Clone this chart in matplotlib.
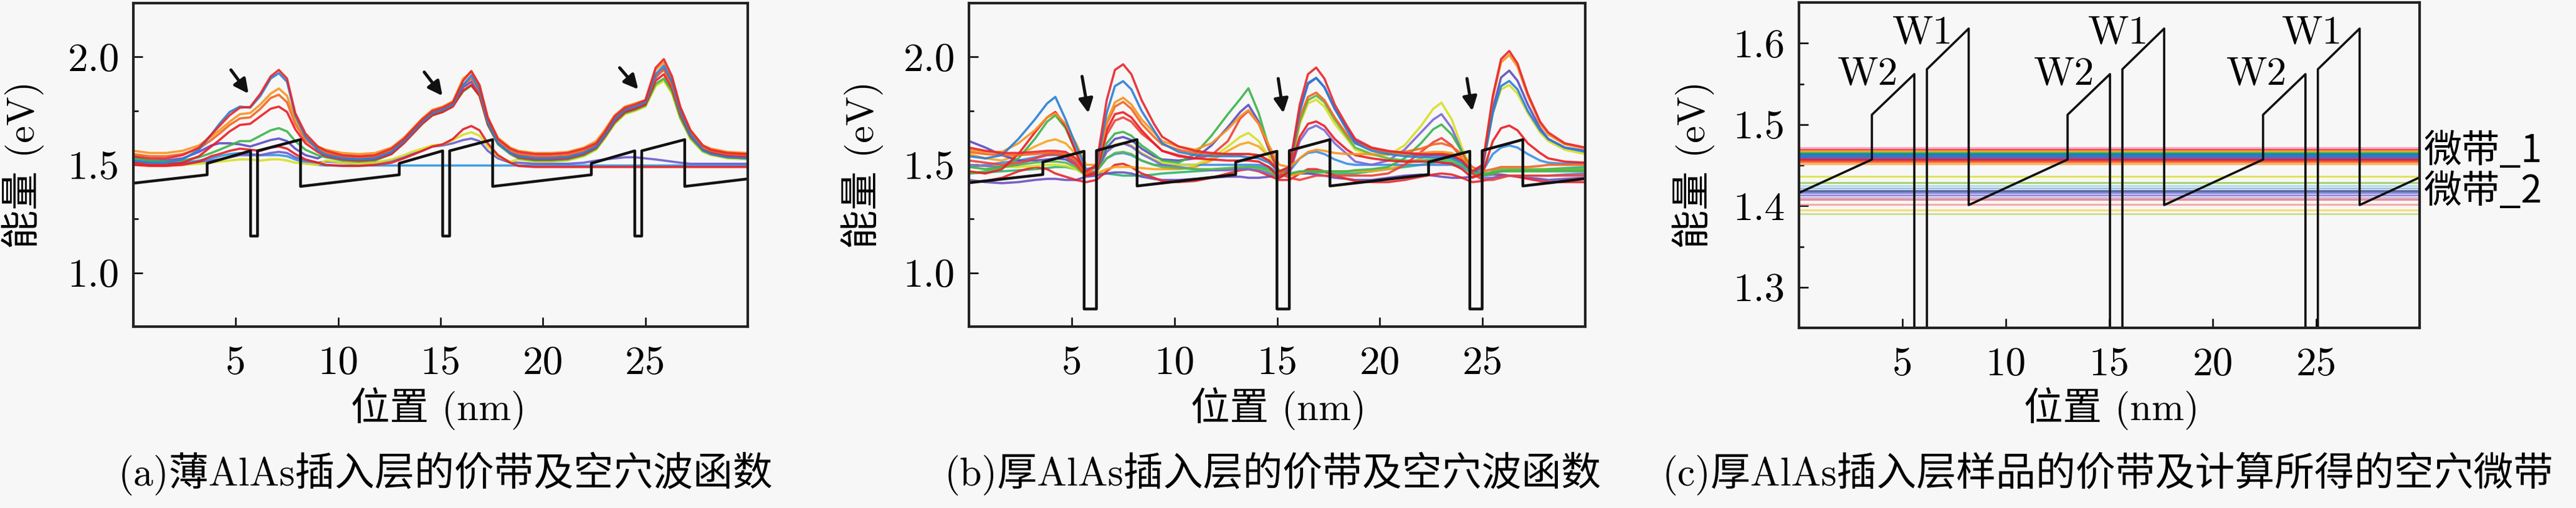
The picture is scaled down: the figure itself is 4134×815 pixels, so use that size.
import matplotlib.pyplot as plt
from matplotlib.ticker import FixedLocator

plt.rcParams['font.family'] = ['cmr10', 'Noto Sans CJK SC']
plt.rcParams['axes.unicode_minus'] = False

BG = '#f7f7f7'

# position grid (nm) shared by the wave function curves of (a) and (b)
xg = [0, 0.8, 1.6, 2.4, 3.2, 3.8, 4.2, 4.7, 5.2, 5.7, 6.2, 6.7, 7.1, 7.5, 7.9, 8.4, 9.0,
      9.4, 10.2, 11.0, 11.8, 12.6, 13.2, 13.6, 14.1, 14.6, 15.1, 15.6, 16.1, 16.5, 16.9, 17.3, 17.8, 18.4,
      18.8, 19.6, 20.4, 21.2, 22.0, 22.6, 23.0, 23.5, 24.0, 24.5, 25.0, 25.5, 25.9, 26.3, 26.7, 27.2, 27.8,
      28.2, 29.0, 30.0]

# ---- (a) thin AlAs: valence band and hole wave functions (eV) ----
a_band_x = [0, 3.6, 3.6, 5.72, 5.72, 6.06, 6.06, 8.16, 8.16, 12.98, 12.98, 15.1, 15.1, 15.44, 15.44,
            17.54, 17.54, 22.36, 22.36, 24.48, 24.48, 24.82, 24.82, 26.92, 26.92, 30]
a_band_y = [1.415, 1.454, 1.507, 1.565, 1.17, 1.17, 1.565, 1.617, 1.40, 1.454, 1.507, 1.565, 1.17, 1.17, 1.565,
            1.617, 1.40, 1.454, 1.507, 1.565, 1.17, 1.17, 1.565, 1.617, 1.40, 1.435]

a_red = [1.54, 1.53, 1.53, 1.545, 1.58, 1.64, 1.68, 1.73, 1.765, 1.768, 1.83, 1.91, 1.94, 1.90, 1.74, 1.645, 1.585,
         1.565, 1.545, 1.54, 1.545, 1.575, 1.62, 1.66, 1.71, 1.75, 1.765, 1.79, 1.89, 1.935, 1.87, 1.72, 1.62, 1.575,
         1.56, 1.55, 1.55, 1.555, 1.575, 1.60, 1.65, 1.725, 1.765, 1.78, 1.80, 1.95, 1.99, 1.91, 1.77, 1.66, 1.59,
         1.57, 1.555, 1.55]
a_blue = [1.52, 1.51, 1.51, 1.525, 1.57, 1.64, 1.69, 1.745, 1.77, 1.765, 1.82, 1.90, 1.925, 1.885, 1.73, 1.63, 1.57,
          1.545, 1.53, 1.525, 1.53, 1.56, 1.61, 1.65, 1.70, 1.74, 1.755, 1.78, 1.87, 1.915, 1.85, 1.70, 1.60, 1.555,
          1.54, 1.53, 1.53, 1.535, 1.555, 1.585, 1.635, 1.71, 1.755, 1.77, 1.79, 1.92, 1.96, 1.885, 1.75, 1.64, 1.57,
          1.55, 1.535, 1.53]
a_orange = [1.565, 1.555, 1.555, 1.565, 1.59, 1.63, 1.66, 1.70, 1.735, 1.74, 1.78, 1.83, 1.854, 1.82, 1.71, 1.63, 1.585,
            1.57, 1.555, 1.55, 1.555, 1.58, 1.625, 1.665, 1.715, 1.755, 1.77, 1.795, 1.90, 1.93, 1.865, 1.72, 1.625, 1.58,
            1.565, 1.555, 1.555, 1.56, 1.58, 1.61, 1.66, 1.73, 1.77, 1.785, 1.80, 1.94, 1.975, 1.90, 1.765, 1.66, 1.59,
            1.575, 1.56, 1.555]
a_orange2 = [1.55, 1.54, 1.54, 1.55, 1.575, 1.615, 1.645, 1.685, 1.715, 1.72, 1.76, 1.81, 1.825, 1.79, 1.69, 1.615, 1.575,
             1.555, 1.54, 1.535, 1.54, 1.565, 1.61, 1.65, 1.70, 1.74, 1.755, 1.78, 1.87, 1.90, 1.84, 1.70, 1.61, 1.565,
             1.55, 1.54, 1.54, 1.545, 1.565, 1.595, 1.645, 1.715, 1.755, 1.77, 1.79, 1.91, 1.94, 1.87, 1.745, 1.645, 1.58,
             1.565, 1.55, 1.545]
a_red2 = [1.51, 1.50, 1.50, 1.51, 1.54, 1.585, 1.615, 1.655, 1.685, 1.69, 1.725, 1.76, 1.77, 1.745, 1.665, 1.60, 1.56,
          1.54, 1.525, 1.52, 1.525, 1.55, 1.60, 1.64, 1.69, 1.73, 1.745, 1.77, 1.845, 1.87, 1.82, 1.69, 1.60, 1.555,
          1.535, 1.525, 1.525, 1.53, 1.55, 1.58, 1.63, 1.70, 1.745, 1.76, 1.78, 1.89, 1.92, 1.855, 1.735, 1.635, 1.57,
          1.555, 1.54, 1.535]
a_green = [1.53, 1.52, 1.515, 1.52, 1.535, 1.555, 1.57, 1.59, 1.61, 1.61, 1.635, 1.66, 1.67, 1.655, 1.61, 1.57, 1.545,
           1.535, 1.52, 1.515, 1.52, 1.55, 1.60, 1.64, 1.69, 1.73, 1.745, 1.775, 1.84, 1.868, 1.82, 1.685, 1.595, 1.55,
           1.53, 1.52, 1.52, 1.525, 1.545, 1.575, 1.625, 1.695, 1.74, 1.755, 1.775, 1.875, 1.90, 1.84, 1.72, 1.625, 1.565,
           1.55, 1.535, 1.53]
a_purple = [1.535, 1.52, 1.52, 1.53, 1.56, 1.59, 1.60, 1.60, 1.595, 1.585, 1.60, 1.615, 1.622, 1.61, 1.575, 1.545, 1.53,
            1.55, 1.535, 1.53, 1.535, 1.56, 1.605, 1.645, 1.695, 1.735, 1.75, 1.775, 1.86, 1.885, 1.83, 1.695, 1.60, 1.555,
            1.545, 1.535, 1.535, 1.54, 1.56, 1.59, 1.64, 1.71, 1.75, 1.765, 1.785, 1.905, 1.945, 1.875, 1.745, 1.64, 1.575,
            1.56, 1.545, 1.54]
a_red3 = [1.50, 1.495, 1.495, 1.50, 1.515, 1.54, 1.55, 1.565, 1.575, 1.57, 1.565, 1.58, 1.585, 1.575, 1.55, 1.525, 1.51,
          1.50, 1.495, 1.495, 1.50, 1.51, 1.53, 1.545, 1.565, 1.585, 1.595, 1.62, 1.665, 1.68, 1.66, 1.60, 1.545, 1.51,
          1.495, 1.49, 1.49, 1.49, 1.49, 1.49, 1.49, 1.49, 1.49, 1.49, 1.49, 1.49, 1.49, 1.49, 1.49, 1.49, 1.49,
          1.49, 1.49, 1.49]
a_yellow = [1.505, 1.50, 1.50, 1.50, 1.505, 1.51, 1.515, 1.52, 1.525, 1.525, 1.52, 1.525, 1.526, 1.52, 1.51, 1.505, 1.50,
            1.52, 1.51, 1.505, 1.51, 1.525, 1.545, 1.56, 1.575, 1.59, 1.595, 1.615, 1.64, 1.651, 1.635, 1.585, 1.54, 1.515,
            1.525, 1.515, 1.515, 1.52, 1.54, 1.57, 1.62, 1.69, 1.735, 1.75, 1.77, 1.865, 1.89, 1.83, 1.715, 1.62, 1.56,
            1.545, 1.53, 1.525]
a_purple2 = [1.52, 1.51, 1.505, 1.505, 1.51, 1.52, 1.525, 1.535, 1.545, 1.545, 1.545, 1.555, 1.56, 1.555, 1.535, 1.52, 1.51,
             1.515, 1.51, 1.505, 1.51, 1.52, 1.535, 1.55, 1.565, 1.585, 1.59, 1.60, 1.615, 1.622, 1.61, 1.565, 1.53, 1.51,
             1.51, 1.505, 1.505, 1.505, 1.51, 1.52, 1.525, 1.53, 1.535, 1.535, 1.53, 1.525, 1.52, 1.515, 1.51, 1.505, 1.505,
             1.505, 1.505, 1.505]
a_ltblue = [1.51, 1.505, 1.505, 1.51, 1.52, 1.53, 1.54, 1.55, 1.555, 1.55, 1.545, 1.545, 1.545, 1.54, 1.525, 1.51, 1.50,
            1.497, 1.497, 1.497, 1.497, 1.497, 1.497, 1.497, 1.497, 1.497, 1.497, 1.497, 1.497, 1.497, 1.497, 1.497, 1.497, 1.497,
            1.497, 1.497, 1.497, 1.497, 1.497, 1.497, 1.497, 1.497, 1.497, 1.497, 1.497, 1.497, 1.497, 1.497, 1.497, 1.497, 1.497,
            1.497, 1.497, 1.497]

# arrows in (a): (tail x, tail y, head x, head y)
a_arrows = [(4.76, 1.94, 5.62, 1.83), (14.2, 1.93, 15.09, 1.82), (23.74, 1.95, 24.65, 1.85)]

# ---- (b) thick AlAs: valence band and hole wave functions (eV) ----
b_band_x = [0, 3.59, 3.59, 5.6, 5.6, 6.2, 6.2, 8.18, 8.18, 12.98, 12.98, 14.99, 14.99, 15.59, 15.59,
            17.57, 17.57, 22.37, 22.37, 24.38, 24.38, 24.98, 24.98, 26.96, 26.96, 30]
b_band_y = [1.417, 1.455, 1.513, 1.563, 0.832, 0.832, 1.566, 1.617, 1.402, 1.455, 1.513, 1.563, 0.832, 0.832, 1.566,
            1.617, 1.402, 1.455, 1.513, 1.563, 0.832, 0.832, 1.566, 1.617, 1.402, 1.436]

b_red = [1.58, 1.565, 1.555, 1.555, 1.56, 1.565, 1.565, 1.56, 1.53, 1.47, 1.50, 1.80, 1.94, 1.966, 1.92, 1.80, 1.69,
         1.63, 1.585, 1.565, 1.555, 1.55, 1.55, 1.55, 1.545, 1.52, 1.47, 1.49, 1.78, 1.92, 1.951, 1.90, 1.78, 1.68,
         1.62, 1.58, 1.565, 1.555, 1.55, 1.55, 1.55, 1.545, 1.52, 1.47, 1.50, 1.82, 1.99, 2.028, 1.97, 1.83, 1.70,
         1.65, 1.60, 1.58]
b_blue = [1.54, 1.53, 1.545, 1.62, 1.71, 1.785, 1.815, 1.71, 1.59, 1.48, 1.49, 1.74, 1.865, 1.888, 1.85, 1.75, 1.66,
          1.60, 1.56, 1.545, 1.54, 1.54, 1.54, 1.535, 1.53, 1.51, 1.47, 1.49, 1.75, 1.88, 1.903, 1.86, 1.76, 1.66,
          1.60, 1.565, 1.55, 1.54, 1.535, 1.535, 1.535, 1.53, 1.51, 1.47, 1.49, 1.74, 1.865, 1.889, 1.85, 1.75, 1.66,
          1.62, 1.58, 1.56]
b_orange = [1.57, 1.56, 1.56, 1.60, 1.66, 1.72, 1.739, 1.69, 1.60, 1.50, 1.50, 1.70, 1.79, 1.811, 1.78, 1.71, 1.65,
            1.61, 1.585, 1.57, 1.60, 1.665, 1.725, 1.754, 1.69, 1.59, 1.50, 1.49, 1.53, 1.56, 1.57, 1.565, 1.555, 1.55,
            1.55, 1.55, 1.55, 1.55, 1.555, 1.56, 1.56, 1.555, 1.53, 1.47, 1.50, 1.81, 1.975, 2.01, 1.955, 1.82, 1.69,
            1.64, 1.595, 1.575]
b_orange2 = [1.56, 1.55, 1.545, 1.545, 1.55, 1.555, 1.555, 1.55, 1.52, 1.46, 1.49, 1.69, 1.77, 1.792, 1.76, 1.69, 1.63,
             1.595, 1.57, 1.555, 1.55, 1.55, 1.55, 1.55, 1.545, 1.52, 1.46, 1.49, 1.72, 1.815, 1.835, 1.80, 1.72, 1.64,
             1.60, 1.575, 1.56, 1.56, 1.575, 1.595, 1.60, 1.585, 1.55, 1.49, 1.47, 1.48, 1.49, 1.49, 1.49, 1.49, 1.495,
             1.50, 1.50, 1.50]
b_red2 = [1.47, 1.46, 1.48, 1.55, 1.65, 1.72, 1.745, 1.68, 1.56, 1.45, 1.46, 1.66, 1.735, 1.744, 1.72, 1.66, 1.60,
          1.565, 1.54, 1.53, 1.525, 1.52, 1.52, 1.52, 1.515, 1.49, 1.44, 1.47, 1.63, 1.69, 1.701, 1.68, 1.62, 1.57,
          1.545, 1.53, 1.52, 1.515, 1.515, 1.515, 1.51, 1.505, 1.48, 1.44, 1.46, 1.61, 1.67, 1.682, 1.66, 1.60, 1.555,
          1.53, 1.515, 1.51]
b_red3 = [1.52, 1.51, 1.50, 1.51, 1.53, 1.545, 1.55, 1.54, 1.50, 1.45, 1.47, 1.64, 1.705, 1.72, 1.70, 1.645, 1.60,
          1.565, 1.545, 1.53, 1.545, 1.61, 1.715, 1.75, 1.69, 1.58, 1.46, 1.44, 1.43, 1.44, 1.45, 1.45, 1.45, 1.45,
          1.45, 1.45, 1.46, 1.50, 1.56, 1.605, 1.624, 1.59, 1.53, 1.46, 1.43, 1.43, 1.44, 1.45, 1.45, 1.45, 1.45,
          1.45, 1.45, 1.45]
b_green = [1.49, 1.48, 1.49, 1.53, 1.62, 1.70, 1.73, 1.67, 1.56, 1.45, 1.47, 1.60, 1.645, 1.653, 1.635, 1.59, 1.55,
           1.52, 1.51, 1.55, 1.635, 1.735, 1.805, 1.855, 1.74, 1.58, 1.47, 1.46, 1.47, 1.47, 1.47, 1.47, 1.47, 1.47,
           1.475, 1.48, 1.49, 1.53, 1.60, 1.665, 1.687, 1.64, 1.56, 1.47, 1.45, 1.46, 1.47, 1.47, 1.47, 1.47, 1.47,
           1.47, 1.47, 1.47]
b_green2 = [1.46, 1.47, 1.49, 1.50, 1.51, 1.515, 1.515, 1.51, 1.49, 1.45, 1.47, 1.53, 1.555, 1.56, 1.55, 1.52, 1.50,
            1.49, 1.485, 1.48, 1.48, 1.485, 1.49, 1.49, 1.485, 1.47, 1.44, 1.47, 1.70, 1.80, 1.821, 1.79, 1.71, 1.63,
            1.58, 1.55, 1.53, 1.52, 1.52, 1.525, 1.525, 1.52, 1.50, 1.46, 1.45, 1.47, 1.48, 1.48, 1.48, 1.48, 1.48,
            1.48, 1.48, 1.48]
b_purple = [1.61, 1.58, 1.545, 1.52, 1.52, 1.525, 1.53, 1.525, 1.50, 1.45, 1.47, 1.58, 1.62, 1.629, 1.615, 1.575, 1.54,
            1.525, 1.52, 1.53, 1.59, 1.675, 1.745, 1.778, 1.70, 1.57, 1.46, 1.48, 1.75, 1.875, 1.903, 1.86, 1.76, 1.67,
            1.61, 1.575, 1.56, 1.55, 1.545, 1.545, 1.545, 1.54, 1.515, 1.46, 1.49, 1.76, 1.905, 1.937, 1.89, 1.78, 1.67,
            1.62, 1.58, 1.565]
b_purple2 = [1.50, 1.495, 1.49, 1.50, 1.53, 1.55, 1.555, 1.545, 1.51, 1.45, 1.47, 1.56, 1.59, 1.60, 1.585, 1.55, 1.52,
             1.50, 1.49, 1.48, 1.475, 1.475, 1.48, 1.48, 1.475, 1.46, 1.44, 1.46, 1.61, 1.665, 1.682, 1.66, 1.60, 1.55,
             1.515, 1.50, 1.52, 1.57, 1.65, 1.71, 1.735, 1.67, 1.56, 1.46, 1.44, 1.44, 1.445, 1.45, 1.45, 1.45, 1.45,
             1.45, 1.455, 1.46]
b_yellow = [1.50, 1.495, 1.49, 1.49, 1.495, 1.50, 1.50, 1.495, 1.48, 1.45, 1.47, 1.56, 1.595, 1.60, 1.59, 1.555, 1.525,
            1.51, 1.50, 1.50, 1.53, 1.585, 1.63, 1.648, 1.61, 1.54, 1.46, 1.47, 1.69, 1.785, 1.802, 1.77, 1.69, 1.62,
            1.57, 1.545, 1.545, 1.59, 1.68, 1.76, 1.788, 1.71, 1.58, 1.47, 1.48, 1.74, 1.85, 1.87, 1.83, 1.74, 1.65,
            1.61, 1.57, 1.55]
b_blue2 = [1.49, 1.50, 1.51, 1.52, 1.535, 1.545, 1.545, 1.54, 1.51, 1.46, 1.47, 1.53, 1.55, 1.555, 1.545, 1.52, 1.50,
           1.50, 1.50, 1.50, 1.50, 1.50, 1.50, 1.50, 1.50, 1.49, 1.46, 1.47, 1.53, 1.555, 1.561, 1.55, 1.525, 1.505,
           1.50, 1.50, 1.50, 1.50, 1.50, 1.50, 1.50, 1.50, 1.49, 1.46, 1.47, 1.55, 1.58, 1.59, 1.58, 1.55, 1.52,
           1.51, 1.505, 1.51]
b_orange3 = [1.55, 1.53, 1.52, 1.545, 1.585, 1.61, 1.618, 1.60, 1.55, 1.47, 1.46, 1.48, 1.49, 1.49, 1.49, 1.485, 1.48,
             1.48, 1.48, 1.49, 1.52, 1.565, 1.595, 1.604, 1.585, 1.54, 1.47, 1.45, 1.46, 1.47, 1.47, 1.47, 1.47, 1.47,
             1.47, 1.47, 1.48, 1.50, 1.53, 1.55, 1.555, 1.545, 1.52, 1.46, 1.45, 1.46, 1.47, 1.475, 1.475, 1.475, 1.475,
             1.475, 1.475, 1.475]
b_red4 = [1.42, 1.425, 1.44, 1.47, 1.49, 1.48, 1.46, 1.445, 1.43, 1.42, 1.43, 1.47, 1.50, 1.505, 1.49, 1.46, 1.44,
          1.425, 1.42, 1.425, 1.44, 1.46, 1.475, 1.48, 1.47, 1.45, 1.43, 1.43, 1.46, 1.48, 1.48, 1.47, 1.45, 1.435,
          1.425, 1.42, 1.42, 1.43, 1.445, 1.455, 1.46, 1.455, 1.44, 1.42, 1.425, 1.44, 1.45, 1.45, 1.445, 1.435, 1.425,
          1.42, 1.42, 1.42]
b_purple3 = [1.43, 1.42, 1.415, 1.42, 1.43, 1.435, 1.435, 1.43, 1.43, 1.445, 1.45, 1.46, 1.465, 1.465, 1.46, 1.445, 1.435,
             1.43, 1.43, 1.435, 1.44, 1.445, 1.445, 1.44, 1.44, 1.445, 1.45, 1.455, 1.46, 1.46, 1.455, 1.45, 1.44, 1.435,
             1.43, 1.43, 1.44, 1.45, 1.455, 1.45, 1.445, 1.44, 1.44, 1.445, 1.45, 1.455, 1.455, 1.45, 1.445, 1.44, 1.435,
             1.43, 1.435, 1.44]
b_teal = [1.46, 1.465, 1.47, 1.475, 1.48, 1.485, 1.49, 1.49, 1.48, 1.46, 1.46, 1.46, 1.455, 1.45, 1.45, 1.45, 1.455,
          1.46, 1.465, 1.47, 1.475, 1.48, 1.485, 1.49, 1.49, 1.48, 1.46, 1.455, 1.46, 1.46, 1.465, 1.465, 1.46, 1.46,
          1.46, 1.47, 1.48, 1.49, 1.50, 1.51, 1.515, 1.51, 1.495, 1.47, 1.46, 1.465, 1.47, 1.475, 1.475, 1.475, 1.475,
          1.48, 1.485, 1.49]

b_arrows = [(5.5, 1.91, 5.81, 1.74), (15.05, 1.90, 15.3, 1.74), (24.24, 1.90, 24.5, 1.75)]

# ---- (c) thick AlAs sample: valence band and calculated hole minibands (eV) ----
c_band_x = [0, 3.52, 3.52, 5.57, 5.57, 6.18, 6.18, 8.2, 8.2, 12.98, 12.98, 15.03, 15.03, 15.63, 15.63,
            17.65, 17.65, 22.43, 22.43, 24.48, 24.48, 25.08, 25.08, 27.1, 27.1, 30]
c_band_y = [1.416, 1.457, 1.512, 1.562, 0.83, 0.83, 1.568, 1.618, 1.401, 1.457, 1.512, 1.562, 0.83, 0.83, 1.568,
            1.618, 1.401, 1.457, 1.512, 1.562, 0.83, 0.83, 1.568, 1.618, 1.401, 1.435]

mini1_y = [1.4705, 1.4688, 1.4672, 1.4657, 1.4645, 1.4630, 1.4615, 1.4598, 1.4580, 1.4560, 1.4535, 1.4515]
mini1_c = ['#f4a3c1', '#ee3b57', '#f7941d', '#c8d632', '#39b54a', '#1c75bc', '#2a7fc0', '#3a6fb8',
           '#6a4fc0', '#ed1c24', '#f15a24', '#f7b267']
mini2_y = [1.4361, 1.4284, 1.4246, 1.4220, 1.4187, 1.4162, 1.4131, 1.4100, 1.4080, 1.4016, 1.3952, 1.3906]
mini2_c = ['#d9e021', '#8cc63f', '#a6d1ec', '#7fb8e0', '#2e3a87', '#5560c8', '#7b68d6', '#b7a7e0',
           '#f0646e', '#f4928f', '#f7d24a', '#b9d97a']

w_labels = ['W2', 'W1', 'W2', 'W1', 'W2', 'W1']
w_x = [3.34, 5.98, 12.8, 15.44, 22.13, 24.8]
w_y = [1.561, 1.612, 1.561, 1.612, 1.561, 1.612]

x_ticks = [5, 10, 15, 20, 25]
x_tick_labels = ['5', '10', '15', '20', '25']
ab_yticks = [1.0, 1.5, 2.0]
ab_ytick_labels = ['1.0', '1.5', '2.0']
c_yticks = [1.3, 1.4, 1.5, 1.6]
c_ytick_labels = ['1.3', '1.4', '1.5', '1.6']

captions = ['(a)薄AlAs插入层的价带及空穴波函数',
            '(b)厚AlAs插入层的价带及空穴波函数',
            '(c)厚AlAs插入层样品的价带及计算所得的空穴微带']

a_curves = [(a_ltblue, '#2f96e0'), (a_purple2, '#6d5bd0'), (a_yellow, '#d7df23'), (a_red3, '#e41f26'),
            (a_purple, '#5b4bc4'), (a_green, '#3cb44b'), (a_red2, '#ec1c24'), (a_orange2, '#f26522'),
            (a_orange, '#f7931e'), (a_blue, '#2b7fd4'), (a_red, '#e8262b')]
b_curves = [(b_teal, '#2bb673'), (b_purple3, '#6a4fc0'), (b_red4, '#e8262b'), (b_orange3, '#f8a51b'),
            (b_blue2, '#3a8ee6'), (b_yellow, '#d7df23'), (b_purple2, '#7b68d6'), (b_purple, '#5b4bc4'),
            (b_green2, '#57b947'), (b_green, '#3cb44b'), (b_red3, '#ef4136'), (b_red2, '#ec1c24'),
            (b_orange2, '#f26522'), (b_orange, '#f7931e'), (b_blue, '#2b7fd4'), (b_red, '#e8262b')]

fig = plt.figure(figsize=(41.34, 8.15), dpi=100, facecolor=BG)
ax_a = fig.add_axes([0.0518, 0.357, 0.2385, 0.637])
ax_b = fig.add_axes([0.3762, 0.357, 0.2392, 0.637])
ax_c = fig.add_axes([0.6984, 0.3546, 0.2409, 0.6404])


def style(ax, ylim, yt, ytl, yminor):
    ax.set_facecolor(BG)
    ax.set_xlim(0, 30)
    ax.set_ylim(*ylim)
    ax.set_xticks(x_ticks, labels=x_tick_labels)
    ax.set_yticks(yt, labels=ytl)
    ax.yaxis.set_minor_locator(FixedLocator(yminor))
    ax.tick_params(which='both', direction='in', top=False, right=False, labelsize=47, width=1.8)
    ax.tick_params(which='major', length=11)
    ax.tick_params(which='minor', length=6)
    ax.tick_params(axis='x', pad=22)
    ax.tick_params(axis='y', pad=16)
    for s in ax.spines.values():
        s.set_linewidth(3.0)
        s.set_color('#222222')


for ax, curves, bx, by, arrows in [(ax_a, a_curves, a_band_x, a_band_y, a_arrows),
                                     (ax_b, b_curves, b_band_x, b_band_y, b_arrows)]:
    for vals, col in curves:
        ax.plot(xg, vals, color=col, lw=2.6, alpha=0.9)
    ax.plot(bx, by, color='#111111', lw=3.2)
    for tx, ty, hx, hy in arrows:
        ax.annotate('', xy=(hx, hy), xytext=(tx, ty),
                    arrowprops=dict(arrowstyle='-|>', color='#111111', lw=3.6, mutation_scale=34,
                                    shrinkA=0, shrinkB=0))
    style(ax, (0.75, 2.25), ab_yticks, ab_ytick_labels, [1.25, 1.75])

for yy, col in zip(mini1_y, mini1_c):
    ax_c.axhline(yy, color=col, lw=3.0, alpha=0.9)
for yy, col in zip(mini2_y, mini2_c):
    ax_c.axhline(yy, color=col, lw=2.2, alpha=0.75)
ax_c.plot(c_band_x, c_band_y, color='#111111', lw=2.6)
for lab, xx, yy in zip(w_labels, w_x, w_y):
    ax_c.text(xx, yy, lab, fontsize=46, ha='center', va='center')
ax_c.text(30.2, 1.467, '微带_1', fontsize=44, ha='left', va='center', clip_on=False,
          family=['Noto Sans CJK SC'])
ax_c.text(30.2, 1.417, '微带_2', fontsize=44, ha='left', va='center', clip_on=False,
          family=['Noto Sans CJK SC'])
style(ax_c, (1.25, 1.65), c_yticks, c_ytick_labels, [1.35, 1.45, 1.55])

# axis labels and captions
for xl, yl, cx, cap in [(0.1703, 0.0089, 0.173, captions[0]),
                        (0.4964, 0.3348, 0.4942, captions[1]),
                        (0.8196, 0.6575, 0.8183, captions[2])]:
    fig.text(xl, 0.195, '位置 (nm)', fontsize=45, ha='center', va='center')
    fig.text(yl, 0.676, '能量 (eV)', fontsize=45, ha='center', va='center', rotation=90)
    fig.text(cx, 0.0675, cap, fontsize=46, ha='center', va='center')

fig.savefig('out.png', dpi=100, facecolor=BG)
